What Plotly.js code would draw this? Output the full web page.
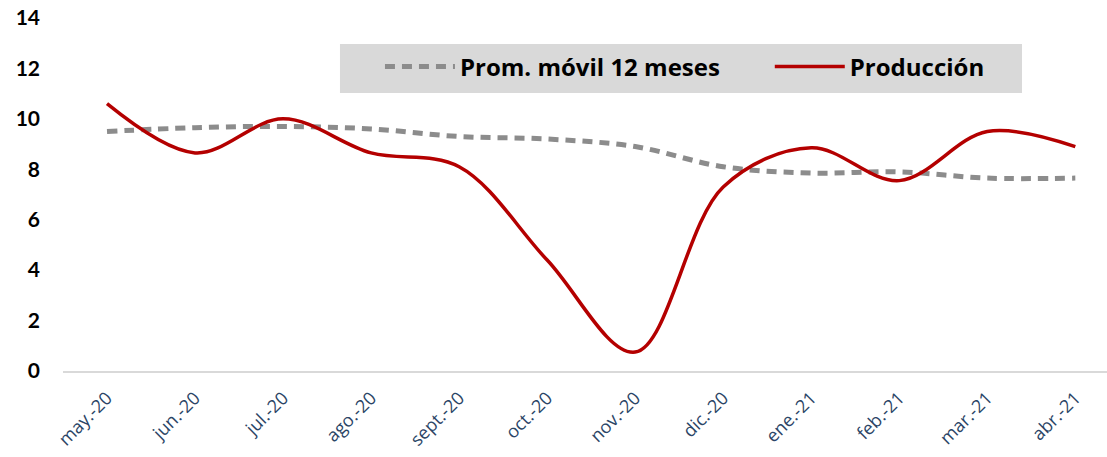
<!DOCTYPE html>
<html>
<head>
<meta charset="utf-8">
<script src="https://cdn.plot.ly/plotly-3.0.1.min.js"></script>
<style>html,body{margin:0;padding:0;background:#fff;}#chart{width:1107px;height:457px;}</style>
</head>
<body>
<div id="chart"></div>
<script>
const months = ["may.-20","jun.-20","jul.-20","ago.-20","sept.-20","oct.-20","nov.-20","dic.-20","ene.-21","feb.-21","mar.-21","abr.-21"];
const promMovil = [9.5, 9.65, 9.7, 9.6, 9.3, 9.2, 8.9, 8.1, 7.85, 7.9, 7.65, 7.65];
const produccion = [10.6, 8.65, 10.0, 8.65, 8.1, 4.4, 0.75, 7.3, 8.85, 7.55, 9.5, 8.9];
const yTicks = [0, 2, 4, 6, 8, 10, 12, 14];

const legendFont = {family: "'Open Sans', Lato, sans-serif", size: 24, color: "#000000", weight: "bold"};

const traces = [
  {
    x: months, y: promMovil, name: "Prom. móvil 12 meses",
    type: "scatter", mode: "lines", legend: "legend",
    line: {color: "#8c8c8c", width: 5, dash: "10px,7px", shape: "spline", smoothing: 1}
  },
  {
    x: months, y: produccion, name: "Producción",
    type: "scatter", mode: "lines", legend: "legend2",
    line: {color: "#b40000", width: 3.5, shape: "spline", smoothing: 1}
  }
];

const layout = {
  width: 1107, height: 457,
  margin: {l: 63, r: 0, t: 18, b: 86},
  paper_bgcolor: "#ffffff", plot_bgcolor: "#ffffff",
  showlegend: true,
  shapes: [{
    type: "rect", xref: "paper", yref: "paper",
    x0: 0.2653, x1: 0.9186, y0: 0.7875, y1: 0.9263,
    fillcolor: "#d9d9d9", line: {width: 0}, layer: "below"
  }],
  legend: {
    orientation: "h",
    x: 0.3036, xanchor: "left", y: 0.925, yanchor: "top",
    bgcolor: "rgba(0,0,0,0)",
    font: legendFont,
    itemwidth: 70
  },
  legend2: {
    orientation: "h",
    x: 0.677, xanchor: "left", y: 0.925, yanchor: "top",
    bgcolor: "rgba(0,0,0,0)",
    font: legendFont,
    itemwidth: 70
  },
  xaxis: {
    type: "category",
    range: [-0.5, 11.36],
    showgrid: false, zeroline: false,
    showline: true, linecolor: "#d9d9d9", linewidth: 1.5,
    ticks: "", tickangle: -45,
    ticklabelstandoff: 8,
    tickfont: {family: "'Open Sans', Lato, sans-serif", size: 18, color: "#2b4566"},
    automargin: false, fixedrange: true
  },
  yaxis: {
    range: [0, 14],
    tickvals: yTicks,
    showgrid: false, zeroline: false, showline: false,
    ticks: "",
    ticklabelstandoff: 22,
    tickfont: {family: "Lato, 'Liberation Sans', sans-serif", size: 21, color: "#000000", weight: "bold"},
    automargin: false, fixedrange: true
  },
  hovermode: false
};

Plotly.newPlot("chart", traces, layout, {displayModeBar: false, staticPlot: true});
</script>
</body>
</html>
